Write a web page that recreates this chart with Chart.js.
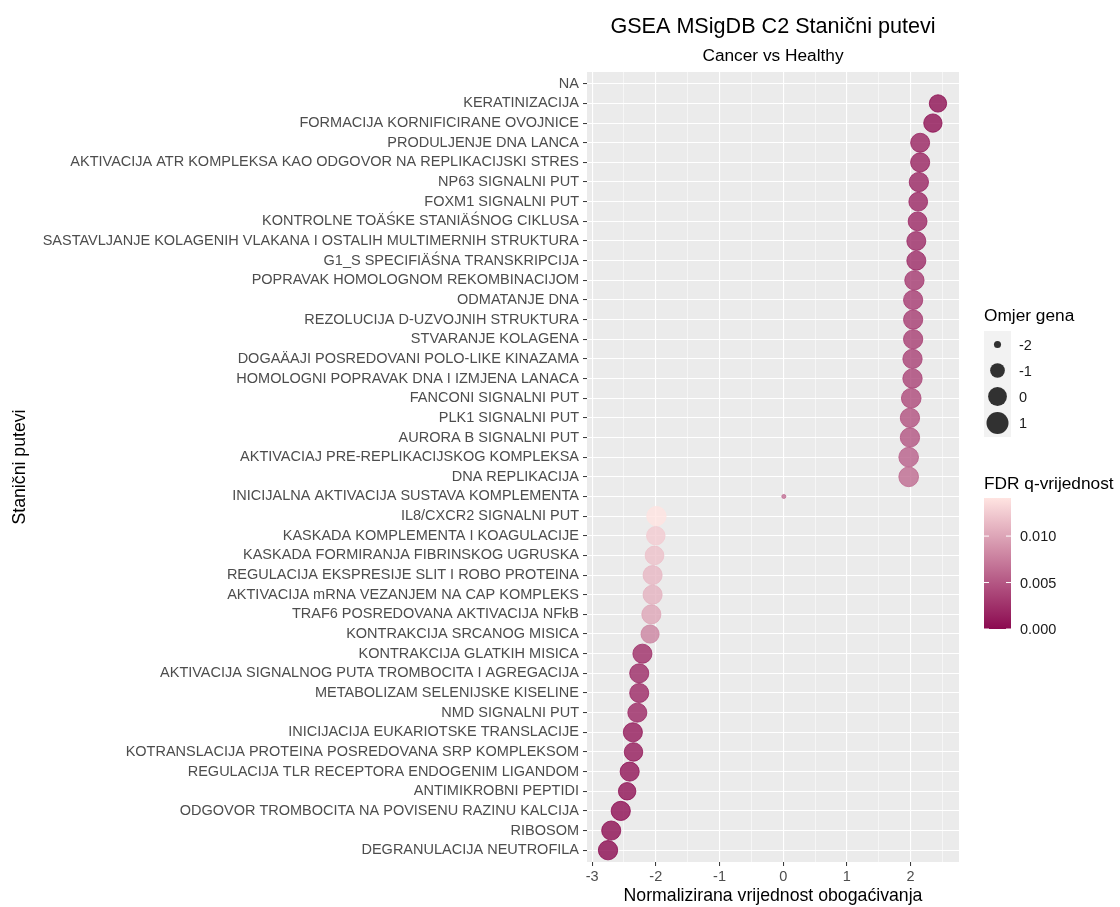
<!DOCTYPE html>
<html>
<head>
<meta charset="utf-8">
<title>GSEA MSigDB C2</title>
<script src="https://cdn.jsdelivr.net/npm/chart.js@4.4.1/dist/chart.umd.min.js"></script>
<style>
  html, body { margin: 0; padding: 0; background: #ffffff; }
</style>
</head>
<body>
<canvas id="gseaChart" width="1120" height="907"></canvas>
<script>
// pathways, top to bottom
var pathways = [
  "NA",
  "KERATINIZACIJA",
  "FORMACIJA KORNIFICIRANE OVOJNICE",
  "PRODULJENJE DNA LANCA",
  "AKTIVACIJA ATR KOMPLEKSA KAO ODGOVOR NA REPLIKACIJSKI STRES",
  "NP63 SIGNALNI PUT",
  "FOXM1 SIGNALNI PUT",
  "KONTROLNE TOÄŚKE STANIÄŚNOG CIKLUSA",
  "SASTAVLJANJE KOLAGENIH VLAKANA I OSTALIH MULTIMERNIH STRUKTURA",
  "G1_S SPECIFIÄŚNA TRANSKRIPCIJA",
  "POPRAVAK HOMOLOGNOM REKOMBINACIJOM",
  "ODMATANJE DNA",
  "REZOLUCIJA D-UZVOJNIH STRUKTURA",
  "STVARANJE KOLAGENA",
  "DOGAÄAJI POSREDOVANI POLO-LIKE KINAZAMA",
  "HOMOLOGNI POPRAVAK DNA I IZMJENA LANACA",
  "FANCONI SIGNALNI PUT",
  "PLK1 SIGNALNI PUT",
  "AURORA B SIGNALNI PUT",
  "AKTIVACIAJ PRE-REPLIKACIJSKOG KOMPLEKSA",
  "DNA REPLIKACIJA",
  "INICIJALNA AKTIVACIJA SUSTAVA KOMPLEMENTA",
  "IL8/CXCR2 SIGNALNI PUT",
  "KASKADA KOMPLEMENTA I KOAGULACIJE",
  "KASKADA FORMIRANJA FIBRINSKOG UGRUSKA",
  "REGULACIJA EKSPRESIJE SLIT I ROBO PROTEINA",
  "AKTIVACIJA mRNA VEZANJEM NA CAP KOMPLEKS",
  "TRAF6 POSREDOVANA AKTIVACIJA NFkB",
  "KONTRAKCIJA SRCANOG MISICA",
  "KONTRAKCIJA GLATKIH MISICA",
  "AKTIVACIJA SIGNALNOG PUTA TROMBOCITA I AGREGACIJA",
  "METABOLIZAM SELENIJSKE KISELINE",
  "NMD SIGNALNI PUT",
  "INICIJACIJA EUKARIOTSKE TRANSLACIJE",
  "KOTRANSLACIJA PROTEINA POSREDOVANA SRP KOMPLEKSOM",
  "REGULACIJA TLR RECEPTORA ENDOGENIM LIGANDOM",
  "ANTIMIKROBNI PEPTIDI",
  "ODGOVOR TROMBOCITA NA POVISENU RAZINU KALCIJA",
  "RIBOSOM",
  "DEGRANULACIJA NEUTROFILA"
];

// normalized enrichment score
var nes = [
  null, 2.43, 2.35, 2.15, 2.15, 2.13, 2.12, 2.11, 2.09, 2.09,
  2.06, 2.04, 2.04, 2.04, 2.03, 2.03, 2.01, 1.99, 1.99, 1.97,
  1.97, 0.01, -1.99, -2.00, -2.02, -2.05, -2.05, -2.07, -2.09, -2.21,
  -2.26, -2.26, -2.29, -2.36, -2.35, -2.41, -2.45, -2.55, -2.70, -2.75
];

// omjer gena (size)
var geneRatio = [
  null, -0.13, 0.15, 0.35, 0.38, 0.45, 0.28, 0.30, 0.35, 0.36,
  0.45, 0.42, 0.42, 0.43, 0.45, 0.46, 0.55, 0.45, 0.46, 0.55,
  0.57, -2.08, 0.45, 0.20, 0.25, 0.38, 0.38, 0.38, 0.10, 0.38,
  0.38, 0.38, 0.36, 0.38, 0.20, 0.38, -0.10, 0.42, 0.38, 0.45
];

// FDR q-vrijednost (colour)
var fdrQ = [
  null, 0.0003, 0.0004, 0.0016, 0.0016, 0.0017, 0.0018, 0.0019, 0.0020, 0.0020,
  0.0030, 0.0031, 0.0032, 0.0033, 0.0035, 0.0036, 0.0040, 0.0045, 0.0048, 0.0055,
  0.0062, 0.0065, 0.0141, 0.0125, 0.0118, 0.0112, 0.0108, 0.0100, 0.0078, 0.0022,
  0.0020, 0.0019, 0.0018, 0.0010, 0.0010, 0.0006, 0.0004, 0.0002, 0.0001, 0.0000
];

var xTicks = [-3, -2, -1, 0, 1, 2];
var sizeTicks = [-2, -1, 0, 1];
var fdrTicks = [0, 0.005, 0.01];

var fontFamily = "'Liberation Sans', Arial, sans-serif";
var lowCol = [139, 10, 80];
var highCol = [255, 228, 225];
var fdrMax = Math.max.apply(null, fdrQ.filter(function (v) { return v != null; }));
var sizeMin = -2.09, sizeMax = 1.0;

function fdrColor(q, alpha) {
  var t = q / fdrMax;
  var r = Math.round(lowCol[0] + (highCol[0] - lowCol[0]) * t);
  var g = Math.round(lowCol[1] + (highCol[1] - lowCol[1]) * t);
  var b = Math.round(lowCol[2] + (highCol[2] - lowCol[2]) * t);
  return "rgba(" + r + "," + g + "," + b + "," + alpha + ")";
}

function ratioToRadius(v) {
  var t = (v - sizeMin) / (sizeMax - sizeMin);
  t = Math.max(0, Math.min(1, t));
  return 2 + 9 * Math.sqrt(t);
}

var points = [], radii = [], fills = [];
for (var i = 0; i < pathways.length; i++) {
  if (nes[i] == null) continue;
  points.push({ x: nes[i], y: i + 1 });
  radii.push(ratioToRadius(geneRatio[i]) - 0.5);
  fills.push(fdrColor(fdrQ[i], 0.8));
}

var minorTicks = [];
for (var k = 0; k < xTicks.length; k++) {
  minorTicks.push(xTicks[k]);
  minorTicks.push(xTicks[k] + 0.5);
}

var panelAndLegends = {
  id: "panelAndLegends",
  beforeDraw: function (chart) {
    var a = chart.chartArea, ctx = chart.ctx;
    ctx.save();
    ctx.fillStyle = "#EBEBEB";
    ctx.fillRect(a.left, a.top, a.right - a.left, a.bottom - a.top);
    ctx.restore();
  },
  afterDraw: function (chart) {
    var a = chart.chartArea, ctx = chart.ctx;
    var cx = (a.left + a.right) / 2;
    ctx.save();
    ctx.fillStyle = "#000";
    ctx.textAlign = "center";
    ctx.textBaseline = "alphabetic";
    ctx.font = "21.6px " + fontFamily;
    ctx.fillText("GSEA MSigDB C2 Stanični putevi", cx, 33);
    ctx.font = "17.3px " + fontFamily;
    ctx.fillText("Cancer vs Healthy", cx, 60.5);

    // size legend
    ctx.textAlign = "left";
    ctx.font = "17.3px " + fontFamily;
    ctx.fillText("Omjer gena", 984, 321);
    ctx.fillStyle = "#F2F2F2";
    ctx.fillRect(984, 331, 27, 106);
    var keyY = [344.5, 370.5, 396.5, 423];
    ctx.font = "14.5px " + fontFamily;
    ctx.textBaseline = "middle";
    for (var j = 0; j < sizeTicks.length; j++) {
      ctx.beginPath();
      ctx.arc(997.5, keyY[j], ratioToRadius(sizeTicks[j]), 0, Math.PI * 2);
      ctx.fillStyle = "rgba(0,0,0,0.8)";
      ctx.fill();
      ctx.fillStyle = "#1a1a1a";
      ctx.fillText(String(sizeTicks[j]), 1019, keyY[j] + 1);
    }

    // colour bar
    var barTop = 498, barBot = 629, barL = 984, barW = 27;
    ctx.textBaseline = "alphabetic";
    ctx.fillStyle = "#000";
    ctx.font = "17.3px " + fontFamily;
    ctx.fillText("FDR q-vrijednost", 984, 489);
    var grad = ctx.createLinearGradient(0, barBot, 0, barTop);
    for (var s = 0; s <= 10; s++) {
      grad.addColorStop(s / 10, fdrColor(fdrMax * s / 10, 1));
    }
    ctx.fillStyle = grad;
    ctx.fillRect(barL, barTop, barW, barBot - barTop);
    ctx.strokeStyle = "#ffffff";
    ctx.lineWidth = 1;
    ctx.font = "14.5px " + fontFamily;
    ctx.textBaseline = "middle";
    for (var m = 0; m < fdrTicks.length; m++) {
      var ty = barBot - fdrTicks[m] / fdrMax * (barBot - barTop);
      ctx.beginPath();
      ctx.moveTo(barL, ty); ctx.lineTo(barL + 5, ty);
      ctx.moveTo(barL + barW - 5, ty); ctx.lineTo(barL + barW, ty);
      ctx.stroke();
      ctx.fillStyle = "#1a1a1a";
      ctx.fillText(fdrTicks[m].toFixed(3), 1020, ty + 1);
    }
    ctx.restore();
  }
};

var ctx = document.getElementById("gseaChart");
var gseaChart = new Chart(ctx, {
  type: "scatter",
  data: {
    datasets: [
      {
        data: points,
        pointRadius: radii,
        pointHoverRadius: radii,
        backgroundColor: fills,
        borderColor: fills,
        borderWidth: 1,
      },
    ],
  },
  options: {
    responsive: false,
    animation: false,
    events: [],
    layout: { padding: { top: 72, right: 161, left: 0, bottom: 0 } },
    plugins: { legend: { display: false }, tooltip: { enabled: false } },
    scales: {
      x: {
        type: "linear",
        min: -3.08,
        max: 2.76,
        afterBuildTicks: function (scale) {
          scale.ticks = minorTicks.filter(function (v) { return v <= 2.76; })
            .map(function (v) { return { value: v }; });
        },
        afterFit: function (scale) { scale.height = 45; },
        border: { display: false },
        grid: {
          color: "#ffffff",
          lineWidth: function (c) { return Number.isInteger(c.tick.value) ? 1.1 : 0.55; },
          tickColor: function (c) { return Number.isInteger(c.tick.value) ? "#333333" : "rgba(0,0,0,0)"; },
          tickWidth: 1,
          tickLength: 4,
        },
        ticks: {
          autoSkip: false,
          maxRotation: 0,
          padding: 2,
          color: "#4D4D4D",
          font: { family: fontFamily, size: 14.5 },
          callback: function (v) { return Number.isInteger(v) ? String(v) : ""; },
        },
        title: {
          display: true,
          text: "Normalizirana vrijednost obogaćivanja",
          color: "#000",
          font: { family: fontFamily, size: 17.7 },
          padding: { top: 0, bottom: 0 },
        },
      },
      y: {
        type: "linear",
        reverse: true,
        min: 0.4,
        max: pathways.length + 0.6,
        afterBuildTicks: function (scale) {
          scale.ticks = pathways.map(function (p, idx) { return { value: idx + 1 }; });
        },
        afterFit: function (scale) { scale.width = 587; },
        border: { display: false },
        grid: {
          color: "#ffffff",
          lineWidth: 1.1,
          tickColor: "#333333",
          tickWidth: 1,
          tickLength: 4,
        },
        ticks: {
          autoSkip: false,
          padding: 4,
          color: "#4D4D4D",
          font: { family: fontFamily, size: 14.5 },
          callback: function (v) { return pathways[v - 1]; },
        },
        title: {
          display: true,
          text: "Stanični putevi",
          color: "#000",
          font: { family: fontFamily, size: 17.7 },
          padding: { top: 9, bottom: 0 },
        },
      },
    },
  },
  plugins: [panelAndLegends],
});
</script>
</body>
</html>
